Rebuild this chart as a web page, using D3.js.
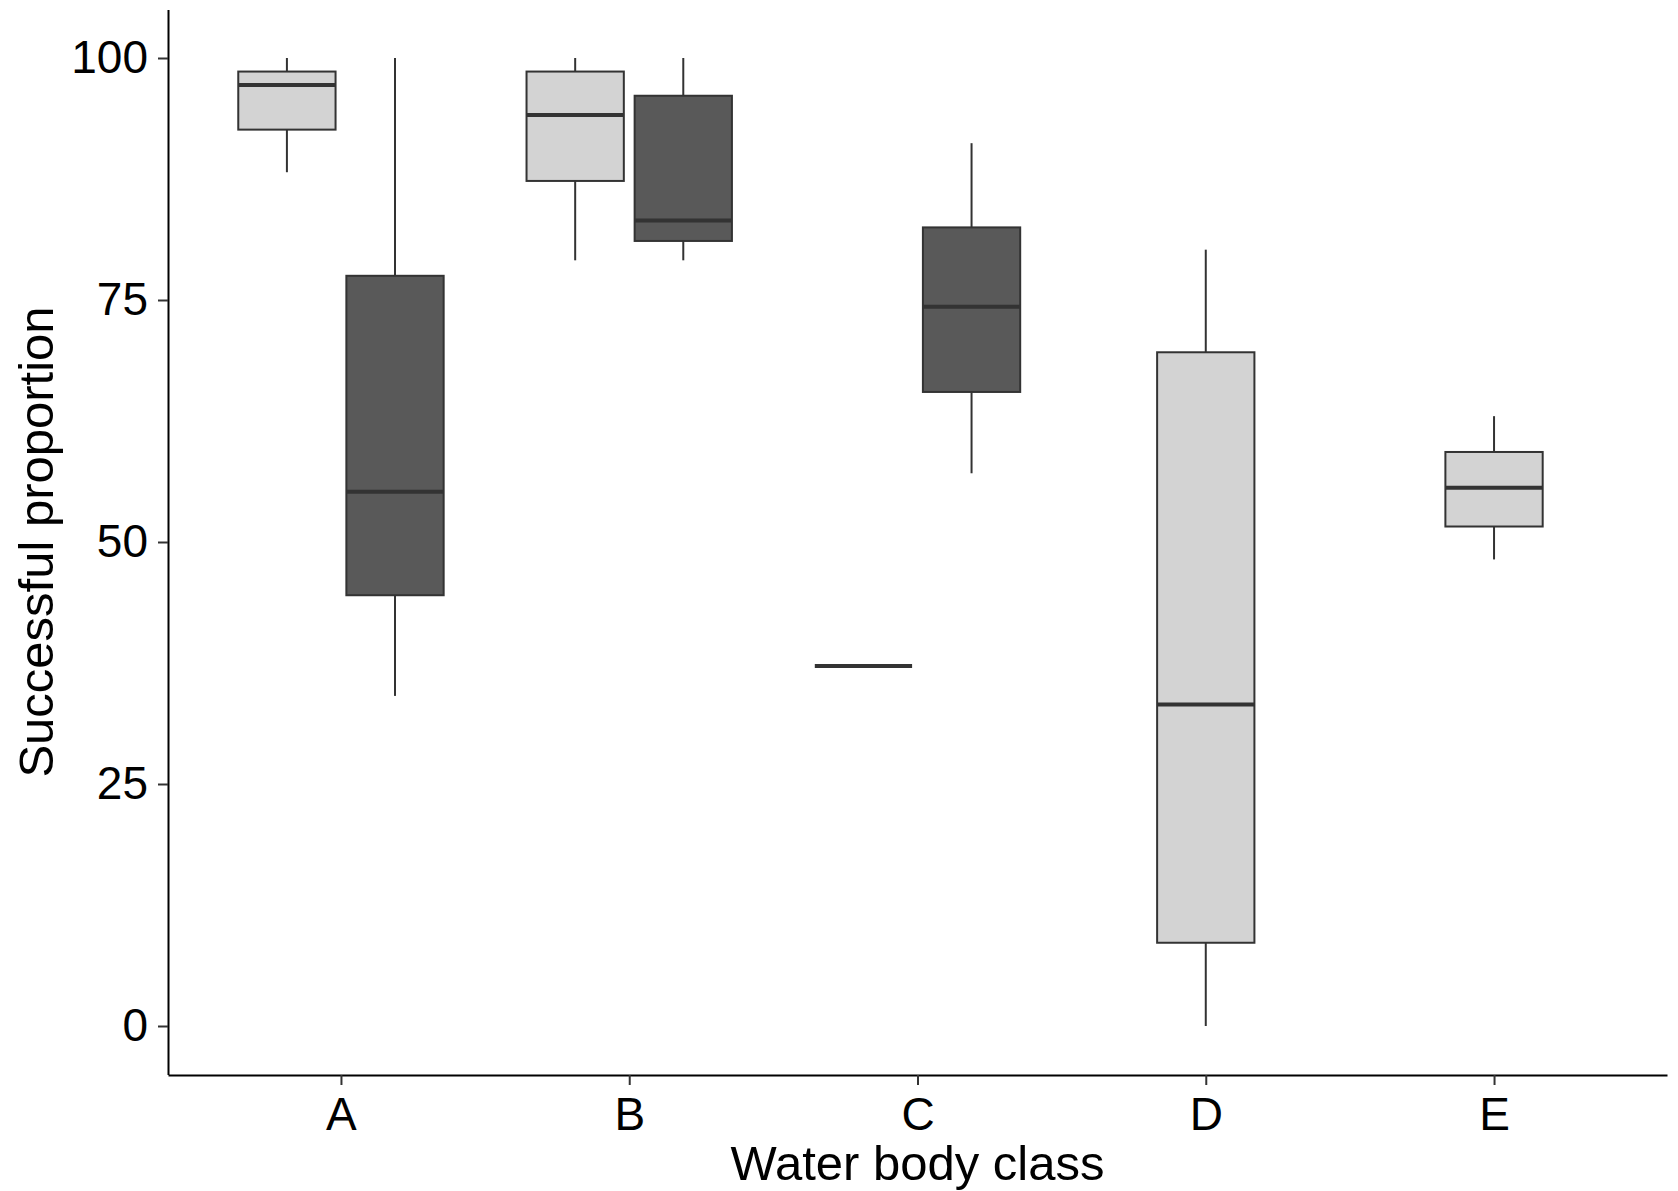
<!DOCTYPE html>
<html lang="en">
<head>
<meta charset="UTF-8">
<title>Successful proportion by water body class</title>
<script src="https://d3js.org/d3.v7.min.js"></script>
<style>
  body { margin: 0; background: #fff; }
  svg { display: block; font-family: "Liberation Sans", Arial, sans-serif; }
</style>
</head>
<body>
<div id="chart"></div>
<script>
// categories on the x axis
const classes = ["A", "B", "C", "D", "E"];

// one entry per box
const boxClass = ["A", "A", "B", "B", "C", "C", "D", "E"];
const boxGroup = ["1", "2", "1", "2", "1", "2", "1", "1"];
const lowWhisker = [88.2, 34.1, 79.1, 79.1, 37.2, 57.1, 0.0, 48.2];
const lowerQ = [92.6, 44.5, 87.3, 81.1, 37.2, 65.5, 8.6, 51.6];
const medians = [97.2, 55.2, 94.1, 83.2, 37.2, 74.3, 33.2, 55.6];
const upperQ = [98.6, 77.5, 98.6, 96.1, 37.2, 82.5, 69.6, 59.3];
const highWhisker = [100, 100, 100, 100, 37.2, 91.2, 80.2, 63.0];

const yTicks = [0, 25, 50, 75, 100];

const width = 1678, height = 1191;
const panelLeft = 168, panelRight = 1667, panelTop = 9.6, panelBottom = 1074.4;

const svg = d3.select("#chart").append("svg")
    .attr("width", width)
    .attr("height", height);

const x = d3.scalePoint().domain(classes).range([panelLeft, panelRight]).padding(0.6);
const y = d3.scaleLinear().domain([-5, 105]).range([panelBottom, panelTop]);
const fill = d3.scaleOrdinal().domain(["1", "2"]).range(["#d3d3d3", "#595959"]);

const step = x.step();
const boxW = 0.3375 * step;

// dodge like ggplot position_dodge2(preserve = "single")
const boxes = boxClass.map((c, i) => {
    const n = boxClass.filter(d => d === c).length;
    const idx = boxClass.slice(0, i).filter(d => d === c).length;
    const cx = x(c) + (n === 1 ? 0 : (idx === 0 ? -0.1875 : 0.1875) * step);
    return {
        cx, group: boxGroup[i],
        lo: lowWhisker[i], q1: lowerQ[i], med: medians[i], q3: upperQ[i], hi: highWhisker[i]
    };
});

const g = svg.append("g").selectAll("g.box")
    .data(boxes)
    .enter().append("g")
    .attr("class", "box");

g.append("line")
    .attr("x1", d => d.cx).attr("x2", d => d.cx)
    .attr("y1", d => y(d.hi)).attr("y2", d => y(d.q3))
    .attr("stroke", "#333").attr("stroke-width", 2);

g.append("line")
    .attr("x1", d => d.cx).attr("x2", d => d.cx)
    .attr("y1", d => y(d.q1)).attr("y2", d => y(d.lo))
    .attr("stroke", "#333").attr("stroke-width", 2);

g.append("rect")
    .attr("x", d => d.cx - boxW / 2)
    .attr("width", boxW)
    .attr("y", d => y(d.q3))
    .attr("height", d => y(d.q1) - y(d.q3))
    .attr("fill", d => fill(d.group))
    .attr("stroke", "#333").attr("stroke-width", 2);

g.append("line")
    .attr("x1", d => d.cx - boxW / 2).attr("x2", d => d.cx + boxW / 2)
    .attr("y1", d => y(d.med)).attr("y2", d => y(d.med))
    .attr("stroke", "#333").attr("stroke-width", 4);

// axes
const yAxis = svg.append("g")
    .attr("transform", `translate(${panelLeft},0)`)
    .call(d3.axisLeft(y).tickValues(yTicks).tickSize(10).tickSizeOuter(0).tickPadding(10));

const xAxis = svg.append("g")
    .attr("transform", `translate(0,${panelBottom + 0.6})`)
    .call(d3.axisBottom(x).tickSize(10).tickSizeOuter(0).tickPadding(12));

[yAxis, xAxis].forEach(a => {
    a.select(".domain").attr("stroke", "#000").attr("stroke-width", 2);
    a.selectAll(".tick line").attr("stroke", "#333").attr("stroke-width", 2);
    a.selectAll(".tick text")
        .attr("fill", "#000")
        .style("font-size", "46px")
        .style("font-family", '"Liberation Sans", Arial, sans-serif');
});

// axis titles
svg.append("text")
    .attr("x", (panelLeft + panelRight) / 2)
    .attr("y", 1180)
    .attr("text-anchor", "middle")
    .style("font-size", "49px")
    .attr("fill", "#000")
    .text("Water body class");

svg.append("text")
    .attr("transform", `translate(53,${(panelTop + panelBottom) / 2}) rotate(-90)`)
    .attr("text-anchor", "middle")
    .style("font-size", "49px")
    .attr("fill", "#000")
    .text("Successful proportion");
</script>
</body>
</html>
